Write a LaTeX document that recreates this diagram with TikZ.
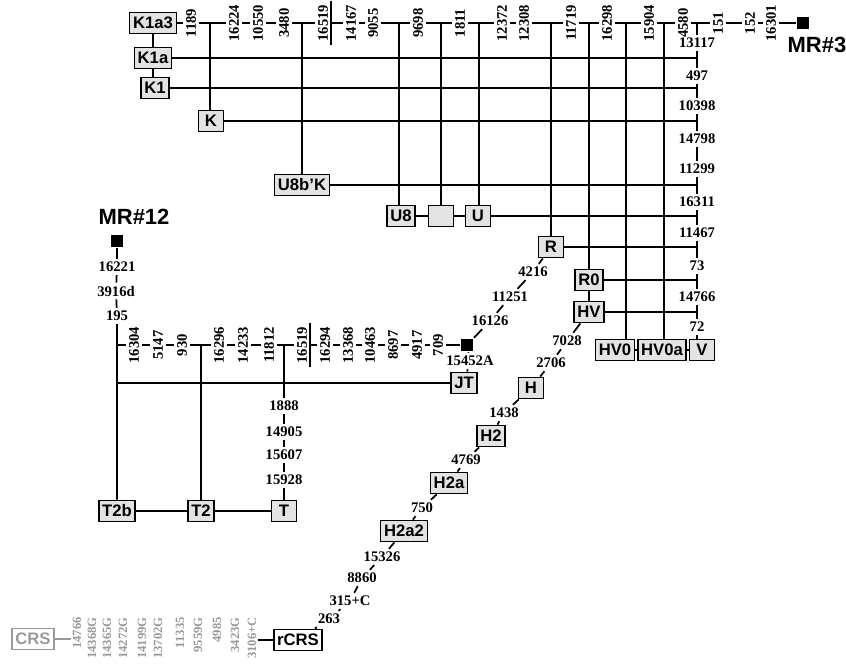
\documentclass[tikz,border=0pt]{standalone}
\usepackage{fontspec}
\setmainfont{Liberation Serif}
\setsansfont{Liberation Sans}
\usepackage{xcolor}
\definecolor{hapgray}{HTML}{E3E3E3}
\definecolor{crsgray}{HTML}{9A9A9A}
\tikzset{
    hap/.style={draw, line width=1.1pt, fill=hapgray, font=\sffamily\bfseries\fontsize{12.5}{13}\selectfont,
        inner xsep=2.5pt, inner ysep=0pt, minimum width=18.5pt, minimum height=16pt},
    mut/.style={font=\bfseries\fontsize{11}{12}\selectfont, inner sep=1.8pt},
    vmut/.style={mut, rotate=90},
    crsmut/.style={vmut, text=crsgray, font=\bfseries\fontsize{9.5}{10}\selectfont, inner sep=1pt, anchor=east},
    medvec/.style={fill=black, minimum size=9.5pt, inner sep=0pt},
    mrlabel/.style={font=\sffamily\bfseries\fontsize{16.5}{17}\selectfont},
    backbar/.style={line width=1.6pt},
}

\begin{document}
\begin{tikzpicture}[x=0.75pt, y=-0.75pt, line width=1.3pt]
    \useasboundingbox (0,0) rectangle (846,664);

    \node[hap] (K1a3) at (153,23) {K1a3};
    \node[hap] (K1a) at (153,58) {K1a};
    \node[hap] (K1) at (155,88) {K1};
    \node[hap] (K) at (211,121) {K};
    \node[hap] (U8bK) at (302,185) {U8b'K};
    \node[hap] (U8) at (401,216) {U8};
    \node[hap] (U8x) at (441,216) {};
    \node[hap] (U) at (478,216) {U};
    \node[hap] (R) at (551,247) {R};
    \node[hap] (R0) at (589,280) {R0};
    \node[hap] (HV) at (589,312) {HV};
    \node[hap] (HV0) at (615,350) {HV0};
    \node[hap] (HV0a) at (662,350) {HV0a};
    \node[hap] (V) at (702,350) {V};
    \node[hap] (JT) at (464,383) {JT};
    \node[hap] (T2b) at (117,511) {T2b};
    \node[hap] (T2) at (201,511) {T2};
    \node[hap] (T) at (284,511) {T};
    \node[hap] (H) at (531,388) {H};
    \node[hap] (H2) at (491,436) {H2};
    \node[hap] (H2a) at (449,483) {H2a};
    \node[hap] (H2a2) at (404,531) {H2a2};
    \node[hap, fill=white] (rCRS) at (298,640) {rCRS};
    \node[hap, fill=white, draw=crsgray, text=crsgray] (CRS) at (33,639) {CRS};

    \node[medvec] (mr3) at (803,23) {};
    \node[mrlabel] (mr3name) at (817,45) {MR\#3};
    \node[medvec] (mr12) at (117,241) {};
    \node[mrlabel] (mr12name) at (134,217) {MR\#12};
    \node[medvec] (mrJ) at (467,345) {};

    \node[vmut] (a1189) at (191,23) {1189};
    \coordinate (jK) at (210,23);
    \node[vmut] (a16224) at (234,23) {16224};
    \node[vmut] (a10550) at (258,23) {10550};
    \node[vmut] (a3480) at (284,23) {3480};
    \coordinate (jU8bK) at (302,23);
    \node[vmut] (a16519) at (323,23) {16519};
    \node[vmut] (a14167) at (351,23) {14167};
    \node[vmut] (a9055) at (373,23) {9055};
    \coordinate (jU8) at (399,23);
    \node[vmut] (a9698) at (418,23) {9698};
    \coordinate (jU8x) at (441,23);
    \node[vmut] (a1811) at (460,23) {1811};
    \coordinate (jU) at (479,23);
    \node[vmut] (a12372) at (502,23) {12372};
    \node[vmut] (a12308) at (524,23) {12308};
    \coordinate (jR) at (551,23);
    \node[vmut] (a11719) at (571,23) {11719};
    \coordinate (jR0) at (589,23);
    \node[vmut] (a16298) at (607,23) {16298};
    \coordinate (jHV0) at (626,23);
    \node[vmut] (a15904) at (649,23) {15904};
    \coordinate (jHV0a) at (664,23);
    \node[vmut] (a4580) at (683,23) {4580};
    \coordinate (jcol) at (697,23);
    \node[vmut] (a151) at (718,23) {151};
    \node[vmut] (a152) at (750,23) {152};
    \node[vmut] (a16301) at (771,23) {16301};

    \node[mut] (c13117) at (697,43) {13117};
    \coordinate (cK1a) at (K1a -| jcol);
    \node[mut] (c497) at (697,76) {497};
    \coordinate (cK1) at (K1 -| jcol);
    \node[mut] (c10398) at (697,106) {10398};
    \coordinate (cK) at (K -| jcol);
    \node[mut] (c14798) at (697,139) {14798};
    \node[mut] (c11299) at (697,169) {11299};
    \coordinate (cU8bK) at (U8bK -| jcol);
    \node[mut] (c16311) at (697,202) {16311};
    \coordinate (cU) at (U -| jcol);
    \node[mut] (c11467) at (697,233) {11467};
    \coordinate (cR) at (R -| jcol);
    \node[mut] (c73) at (697,266) {73};
    \coordinate (cR0) at (R0 -| jcol);
    \node[mut] (c14766) at (697,297) {14766};
    \coordinate (cHV) at (HV -| jcol);
    \node[mut] (c72) at (697,327) {72};

    \node[mut] (d4216) at (533,272) {4216};
    \node[mut] (d11251) at (510,297) {11251};
    \node[mut] (d16126) at (490,321) {16126};
    \node[mut] (d15452A) at (470,361) {15452A};

    \node[mut] (e16221) at (117,267) {16221};
    \node[mut] (e3916d) at (116,291) {3916d};
    \node[mut] (e195) at (117,316) {195};
    \coordinate (jRow) at (117,345);
    \coordinate (jJT) at (jRow |- JT);

    \node[vmut] (b16304) at (134,345) {16304};
    \node[vmut] (b5147) at (158,345) {5147};
    \node[vmut] (b930) at (182,345) {930};
    \coordinate (jT2) at (201,345);
    \node[vmut] (b16296) at (219,345) {16296};
    \node[vmut] (b14233) at (243,345) {14233};
    \node[vmut] (b11812) at (269,345) {11812};
    \coordinate (jT) at (284,345);
    \node[vmut] (b16519) at (302,345) {16519};
    \node[vmut] (b16294) at (325,345) {16294};
    \node[vmut] (b13368) at (348,345) {13368};
    \node[vmut] (b10463) at (370,345) {10463};
    \node[vmut] (b8697) at (393,345) {8697};
    \node[vmut] (b4917) at (417,345) {4917};
    \node[vmut] (b709) at (438,345) {709};

    \node[mut] (t1888) at (284,406) {1888};
    \node[mut] (t14905) at (284,432) {14905};
    \node[mut] (t15607) at (284,455) {15607};
    \node[mut] (t15928) at (284,480) {15928};

    \node[mut] (h7028) at (567,341) {7028};
    \node[mut] (h2706) at (551,363) {2706};
    \node[mut] (h1438) at (504,413) {1438};
    \node[mut] (h4769) at (466,460) {4769};
    \node[mut] (h750) at (422,508) {750};
    \node[mut] (h15326) at (382,557) {15326};
    \node[mut] (h8860) at (362,578) {8860};
    \node[mut] (h315C) at (350,601) {315+C};
    \node[mut] (h263) at (329,619) {263};

    \node[crsmut] (g14766) at (77,615) {14766};
    \node[crsmut] (g14368G) at (92,615) {14368G};
    \node[crsmut] (g14365G) at (107,615) {14365G};
    \node[crsmut] (g14272G) at (123,615) {14272G};
    \node[crsmut] (g14199G) at (142,615) {14199G};
    \node[crsmut] (g13702G) at (158,615) {13702G};
    \node[crsmut] (g11335) at (180,615) {11335};
    \node[crsmut] (g9559G) at (198,615) {9559G};
    \node[crsmut] (g4985) at (217,615) {4985};
    \node[crsmut] (g3423G) at (235,615) {3423G};
    \node[crsmut] (g3106C) at (252,615) {3106+C};

    \draw (K1a3) -- (a1189) -- (jK) -- (a16224) -- (a10550) -- (a3480) -- (jU8bK) -- (a16519)
        -- (a14167) -- (a9055) -- (jU8) -- (a9698) -- (jU8x) -- (a1811) -- (jU) -- (a12372)
        -- (a12308) -- (jR) -- (a11719) -- (jR0) -- (a16298) -- (jHV0) -- (a15904) -- (jHV0a)
        -- (a4580) -- (jcol) -- (a151) -- (a152) -- (a16301) -- (mr3);
    \draw[backbar] (a16519.south west) -- (a16519.south east);
    \draw (jK) -- (jK |- K.north);
    \draw (jU8bK) -- (jU8bK |- U8bK.north);
    \draw (jU8) -- (jU8 |- U8.north);
    \draw (jU8x) -- (jU8x |- U8x.north);
    \draw (jU) -- (jU |- U.north);
    \draw (jR) -- (jR |- R.north);
    \draw (jR0) -- (jR0 |- R0.north);
    \draw (jHV0) -- (jHV0 |- HV0.north);
    \draw (jHV0a) -- (jHV0a |- HV0a.north);

    \draw (jcol) -- (c13117) -- (cK1a) -- (c497) -- (cK1) -- (c10398) -- (cK) -- (c14798)
        -- (c11299) -- (cU8bK) -- (c16311) -- (cU) -- (c11467) -- (cR) -- (c73) -- (cR0)
        -- (c14766) -- (cHV) -- (c72) -- (c72 |- V.north);

    \draw (K1a3) -- (K1a);
    \draw (K1a.south) -- (K1a.south |- K1.north);
    \draw (K1a) -- (cK1a);
    \draw (K1) -- (cK1);
    \draw (K) -- (cK);
    \draw (U8bK) -- (cU8bK);
    \draw (U8) -- (U8x) -- (U) -- (cU);
    \draw (R) -- (cR);
    \draw (R0) -- (cR0);
    \draw (HV) -- (cHV);
    \draw (R0) -- (HV);
    \draw (HV0) -- (HV0a) -- (V);

    \draw (R) -- (d4216) -- (d11251) -- (d16126) -- (mrJ);
    \draw (mrJ) -- (d15452A) -- (JT);

    \draw (mr12) -- (e16221) -- (e3916d) -- (e195) -- (jRow) -- (jJT) -- (T2b);
    \draw (jJT) -- (JT);
    \draw (jRow) -- (b16304) -- (b5147) -- (b930) -- (jT2) -- (b16296) -- (b14233) -- (b11812)
        -- (jT) -- (b16519) -- (b16294) -- (b13368) -- (b10463) -- (b8697) -- (b4917) -- (b709) -- (mrJ);
    \draw[backbar] (b16519.south west) -- (b16519.south east);
    \draw (jT2) -- (jT2 |- T2.north);
    \draw (jT) -- (t1888) -- (t14905) -- (t15607) -- (t15928) -- (T);
    \draw (T2b) -- (T2) -- (T);

    \draw (HV) -- (h7028) -- (h2706) -- (H) -- (h1438) -- (H2) -- (h4769) -- (H2a) -- (h750)
        -- (H2a2) -- (h15326) -- (h8860) -- (h315C) -- (h263) -- (rCRS);

    \draw[crsgray] (CRS) -- (CRS -| g14766.north);
    \draw (g3106C.south |- rCRS) -- (rCRS);
\end{tikzpicture}
\end{document}
